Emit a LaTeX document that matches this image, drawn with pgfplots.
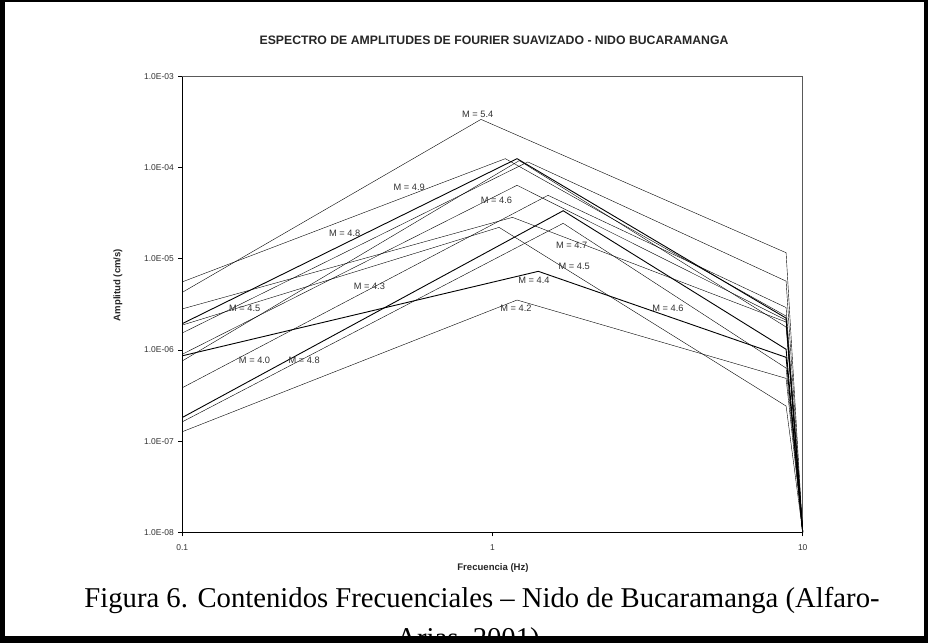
\documentclass[border=0pt]{standalone}
\usepackage{fontspec}
\setmainfont{Liberation Serif}
\newfontfamily\arial{Liberation Sans}
\usepackage{pgfplots}
\pgfplotsset{compat=1.18}
\begin{document}
\begin{tikzpicture}[x=1bp,y=1bp]
\useasboundingbox (0,0) rectangle (928,643);
\clip (0,0) rectangle (928,643);
\fill[white] (0,0) rectangle (928,643);
\begin{axis}[
  at={(182.3bp,110.7bp)}, anchor=south west,
  scale only axis, width=620.4bp, height=455.6bp,
  xmode=log, ymode=log,
  xmin=0.1, xmax=10, ymin=1e-8, ymax=1e-3,
  axis line style={draw=gray!70!black, line width=0.9bp},
  xtick={0.1,1,10}, xticklabels={0.1,1,10},
  ytick={1e-8,1e-7,1e-6,1e-5,1e-4,1e-3},
  yticklabels={1.0E-08,1.0E-07,1.0E-06,1.0E-05,1.0E-04,1.0E-03},
  minor tick style={draw=none},
  xtick pos=bottom, ytick pos=left,
  tick align=outside, major tick length=4bp,
  tick style={black, line width=0.9bp},
  /pgf/number format/assume math mode=true,
  ticklabel style={font=\arial\fontsize{8.5}{10}\selectfont, text=black!80},
  xticklabel style={yshift=-5bp},
  yticklabel style={xshift=-1bp},
  cycle list={{black, solid, line width=0.9bp, mark=none}},
  clip=false,
]
\draw[black, line width=1.2bp] (rel axis cs:0,1) -- (rel axis cs:0,0) -- (rel axis cs:1,0);
% M = 5.4
\addplot coordinates {(0.1,4.3e-6) (0.918,3.40e-4) (8.84,1.17e-5) (10,1e-8)};
% M = 4.9
\addplot coordinates {(0.1,5.6e-6) (1.10,1.26e-4) (8.84,2.36e-6) (10,1e-8)};
\addplot coordinates {(0.1,1.95e-6) (1.20,1.26e-4) (8.84,2.24e-6) (10,1e-8)};
\addplot coordinates {(0.1,1.54e-6) (1.30,1.16e-4) (8.84,5.71e-6) (10,1e-8)};
\addplot coordinates {(0.1,9.0e-7) (1.20,6.43e-5) (8.84,2.13e-6) (10,1e-8)};
\addplot coordinates {(0.1,3.86e-7) (1.51,4.99e-5) (8.84,2.93e-6) (10,1e-8)};
\addplot coordinates {(0.1,1.82e-7) (1.69,3.38e-5) (8.84,1.02e-6) (10,1e-8)};
\addplot coordinates {(0.1,2.83e-6) (1.16,2.86e-5) (8.84,2.03e-6) (10,1e-8)};
\addplot coordinates {(0.1,1.63e-7) (1.69,2.46e-5) (8.84,6.34e-7) (10,1e-8)};
\addplot coordinates {(0.1,1.88e-6) (1.05,2.22e-5) (8.84,2.43e-7) (10,1e-8)};
\addplot coordinates {(0.1,8.65e-7) (1.405,7.31e-6) (8.84,8.32e-7) (10,1e-8)};
\addplot coordinates {(0.1,1.27e-7) (1.20,3.54e-6) (8.84,4.89e-7) (10,1e-8)};
\addplot coordinates {(0.1,7.6e-7) (1.22,1.20e-4) (8.84,1.79e-6) (10,1e-8)};
\tikzset{lab/.style={font=\arial\fontsize{9.3}{11}\selectfont, text=black!80, inner sep=0.5bp}}
\node[lab] at (axis cs:0.896,3.90e-4) {M = 5.4};
\node[lab] at (axis cs:0.539,6.05e-5) {M = 4.9};
\node[lab] at (axis cs:0.334,1.9e-5) {M = 4.8};
\node[lab] at (axis cs:1.03,4.43e-5) {M = 4.6};
\node[lab] at (axis cs:0.159,2.87e-6) {M = 4.5};
\node[lab] at (axis cs:0.401,4.96e-6) {M = 4.3};
\node[lab] at (axis cs:0.171,7.64e-7) {M = 4.0};
\node[lab] at (axis cs:0.247,7.64e-7) {M = 4.8};
\node[lab] at (axis cs:1.80,1.40e-5) {M = 4.7};
\node[lab] at (axis cs:1.835,8.2e-6) {M = 4.5};
\node[lab] at (axis cs:1.36,5.77e-6) {M = 4.4};
\node[lab] at (axis cs:1.19,2.91e-6) {M = 4.2};
\node[lab] at (axis cs:3.68,2.87e-6) {M = 4.6};
\end{axis}
\node[font=\arial\bfseries\fontsize{12.3}{14}\selectfont, text=black!85] at (494,603) {ESPECTRO DE AMPLITUDES DE FOURIER SUAVIZADO - NIDO BUCARAMANGA};
\node[font=\arial\bfseries\fontsize{9.6}{11}\selectfont, text=black!85] at (493,75) {Frecuencia (Hz)};
\node[font=\arial\bfseries\fontsize{9.6}{11}\selectfont, text=black!85, rotate=90] at (118,358) {Amplitud (cm/s)};
\node[font=\fontsize{28.8}{32}\selectfont, anchor=base, inner sep=0] at (482,35) {Figura 6. Contenidos Frecuenciales – Nido de Bucaramanga (Alfaro-};
\node[font=\fontsize{28.8}{32}\selectfont, anchor=base, inner sep=0] at (468,-5) {Arias, 2001)};
\fill[black] (0,0) rectangle (4.5,643);
\fill[black] (923.5,0) rectangle (928,643);
\fill[black] (0,640.5) rectangle (928,643);
\fill[black] (0,0) rectangle (928,7);
\end{tikzpicture}
\end{document}
